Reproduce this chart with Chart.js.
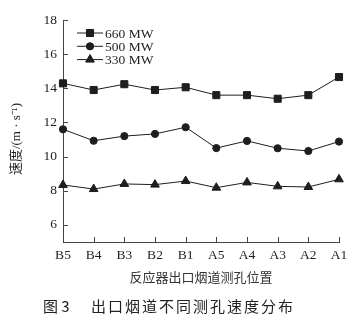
<!DOCTYPE html>
<html>
<head>
<meta charset="utf-8">
<script src="https://cdn.jsdelivr.net/npm/chart.js@4"></script>
<style>
    body { margin: 0; background: #fff; }
    #wrap { position: relative; width: 362px; height: 323px; }
</style>
</head>
<body>
<div id="wrap"><canvas id="chart" width="362" height="323"></canvas></div>
<script>
// data
const positions = ['B5', 'B4', 'B3', 'B2', 'B1', 'A5', 'A4', 'A3', 'A2', 'A1'];
const load660 = [14.29, 13.9, 14.24, 13.9, 14.06, 13.6, 13.6, 13.39, 13.6, 14.66];
const load500 = [11.6, 10.93, 11.2, 11.33, 11.72, 10.5, 10.92, 10.49, 10.33, 10.88];
const load330 = [8.34, 8.1, 8.4, 8.36, 8.57, 8.18, 8.49, 8.26, 8.22, 8.67];
const yTicks = [6, 8, 10, 12, 14, 16, 18];
const seriesNames = ['660 MW', '500 MW', '330 MW'];

const INK = '#1e1e1e';
const AXIS = '#444';
const SERIF = '"Liberation Serif", "Noto Sans CJK SC", serif';
const CJK = '"Noto Sans CJK SC", sans-serif';

function makeSet(label, data, style, radius) {
    return {
        label: label,
        data: data,
        borderColor: INK,
        backgroundColor: INK,
        borderWidth: 1,
        pointStyle: style,
        pointRadius: radius,
        pointHoverRadius: radius,
        tension: 0
    };
}

// inward ticks, legend, axis titles and caption
const decorations = {
    id: 'decorations',
    afterDraw(chart) {
        const ctx = chart.ctx;
        const xs = chart.scales.x;
        const ys = chart.scales.y;
        const area = chart.chartArea;
        ctx.save();
        ctx.strokeStyle = AXIS;
        ctx.lineWidth = 1;
        ctx.beginPath();
        xs.ticks.forEach((t, i) => {
            const px = Math.round(xs.getPixelForTick(i)) + 0.5;
            ctx.moveTo(px, area.bottom);
            ctx.lineTo(px, area.bottom - 5);
        });
        ys.ticks.forEach((t, i) => {
            const py = Math.round(ys.getPixelForTick(i)) + 0.5;
            ctx.moveTo(area.left, py);
            ctx.lineTo(area.left + 5, py);
        });
        ctx.stroke();

        // legend
        ctx.strokeStyle = INK;
        const sets = chart.data.datasets;
        sets.forEach((ds, i) => {
            const y = 33 + i * 13.3;
            ctx.beginPath();
            ctx.moveTo(77, y);
            ctx.lineTo(103, y);
            ctx.stroke();
            Chart.helpers.drawPoint(ctx, {
                pointStyle: ds.pointStyle,
                radius: ds.pointRadius,
                rotation: 0,
                borderWidth: 1
            }, 90, y);
            ctx.fillStyle = INK;
            ctx.fill();
            ctx.font = '13.5px ' + SERIF;
            ctx.textAlign = 'left';
            ctx.textBaseline = 'middle';
            ctx.fillText(ds.label, 105, y + 1);
        });

        // y title
        ctx.save();
        ctx.translate(17, 139);
        ctx.rotate(-Math.PI / 2);
        ctx.textAlign = 'center';
        ctx.textBaseline = 'middle';
        ctx.font = '13px ' + SERIF;
        ctx.fillText('速度/(m · s⁻¹)', 0, 0);
        ctx.restore();

        // x title
        ctx.textAlign = 'center';
        ctx.textBaseline = 'middle';
        ctx.font = '13px ' + CJK;
        ctx.fillStyle = '#333';
        ctx.fillText('反应器出口烟道测孔位置', 201, 277);

        // caption
        ctx.fillStyle = '#222';
        ctx.font = '15px ' + CJK;
        ctx.textAlign = 'left';
        ctx.fillText('图 3', 43, 306);
        ctx.letterSpacing = '2px';
        ctx.fillText('出口烟道不同测孔速度分布', 91, 306);
        ctx.restore();
    }
};

const ctx = document.getElementById('chart').getContext('2d');
new Chart(ctx, {
    type: 'line',
    data: {
        labels: positions,
        datasets: [
            makeSet(seriesNames[0], load660, 'rect', 5),
            makeSet(seriesNames[1], load500, 'circle', 3.6),
            makeSet(seriesNames[2], load330, 'triangle', 5)
        ]
    },
    options: {
        responsive: false,
        animation: false,
        layout: { padding: { left: 0, right: 23, top: 20, bottom: 0 } },
        plugins: {
            legend: { display: false },
            tooltip: { enabled: false }
        },
        scales: {
            x: {
                offset: false,
                grid: { display: true, drawOnChartArea: false, drawTicks: false },
                border: { display: true, color: AXIS, width: 1 },
                ticks: { color: INK, padding: 5, font: { family: SERIF, size: 13.5 } },
                afterFit(scale) { scale.height = 81; }
            },
            y: {
                min: 5,
                max: 18,
                grid: { display: true, drawOnChartArea: false, drawTicks: false },
                border: { display: true, color: AXIS, width: 1 },
                ticks: { color: INK, padding: 6, font: { family: SERIF, size: 13.5 } },
                afterBuildTicks(scale) { scale.ticks = yTicks.map(v => ({ value: v })); },
                afterFit(scale) { scale.width = 63; }
            }
        }
    },
    plugins: [decorations]
});
</script>
</body>
</html>
